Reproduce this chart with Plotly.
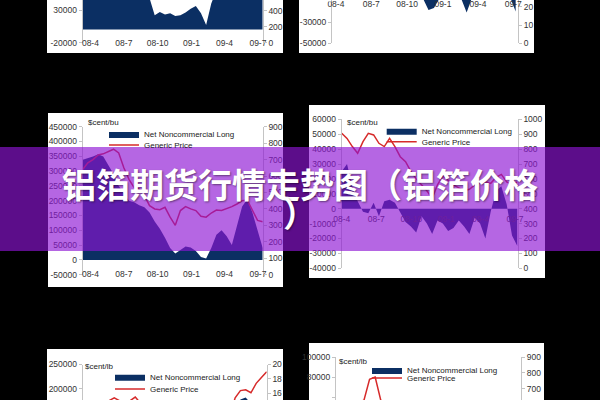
import plotly.graph_objects as go
import pandas as pd

W, H = 600, 400

# ---------------- data ----------------
dates_left = pd.date_range('2008-03-11', periods=36, freq='14D')
dates_right = pd.date_range('2008-04-01', periods=34, freq='14D')

tick_dates = ['2008-04-01', '2008-07-01', '2008-10-01', '2009-01-01', '2009-04-01', '2009-07-01']
tick_labels = ['08-4', '08-7', '08-10', '09-1', '09-4', '09-7']

# top-left chart
tl_net = [60000, 70000, 75000, 80000, 78000, 72000, 68000, 65000, 62000, 60000, 58000, 55000,
          52000, 48000, 22000, 27000, 23000, 25000, 21000, 22000, 26000, 32000, 36000, 25000,
          7000, 40000, 60000, 65000, 70000, 72000, 75000, 80000, 78000, 70000, 65000, 60000]
tl_price = [800, 820, 850, 880, 900, 930, 960, 950, 900, 860, 830, 800, 780, 740, 700, 680, 660, 640,
            620, 630, 650, 660, 640, 620, 600, 620, 640, 660, 680, 700, 720, 740, 760, 740, 720, 700]

# top-right chart
tr_net = [20000, 25000, 10000, 5000, 2000, -3000, 4000, -5000, 3000, 5000, 2000, -4000, -6000, -5000,
          -7000, -3000, -7000, -18000, -16000, -7000, -5000, -6000, -4000, -7000, -20500, -6000,
          -3000, -7000, 2000, 10000, 12000, 4000, -6000, -19500]
tr_price = [38, 39, 40, 41, 42, 43, 42, 41, 40, 39, 38, 37, 35, 33, 31, 30, 29, 28, 28, 29, 30, 31,
            30, 29, 28, 29, 30, 31, 32, 33, 34, 33, 32, 31]

# middle-left chart
ml_net = [338000, 343000, 349000, 357000, 349000, 320000, 290000, 250000, 225000, 200000, 195000,
          185000, 178000, 160000, 130000, 105000, 75000, 40000, 22000, 35000, 45000, 42000, 30000,
          10000, 5000, 40000, 85000, 100000, 80000, 50000, 120000, 180000, 205000, 160000, 100000, 40000]
ml_price = [640, 680, 700, 728, 735, 750, 763, 740, 650, 580, 530, 520, 480, 420, 400, 395, 410, 350,
            300, 390, 414, 400, 390, 355, 350, 375, 393, 390, 400, 414, 430, 450, 454, 390, 330, 322]

# middle-right chart
mr_net = [25000, 30000, 15000, 5000, -2000, -3000, 4000, -5000, 5000, 6000, 4000, -3000, -9000,
          -12000, -16000, -5000, -10000, -17000, -8000, -10000, -15000, -13000, -8000, -12000,
          -17000, -6000, -10000, -20000, -2000, 12000, 15000, 3000, -18000, -25000]
mr_price = [906, 872, 817, 772, 850, 906, 895, 839, 817, 872, 817, 749, 716, 650, 600, 560, 520, 470,
            560, 620, 590, 560, 540, 520, 530, 560, 570, 580, 570, 610, 630, 580, 560, 580]

# bottom-left chart
bl_net = [120000, 130000, 140000, 150000, 145000, 135000, 120000, 100000, 90000, 85000, 80000, 75000,
          70000, 60000, 50000, 40000, 30000, 20000, 15000, 10000, 12000, 15000, 20000, 25000, 30000,
          50000, 80000, 100000, 120000, 150000, 178000, 182000, 170000, 150000, 140000, 130000]
bl_price = [13.5, 14.0, 14.5, 14.7, 14.9, 15.0, 15.4, 15.0, 14.8, 15.0, 15.5, 14.9, 14.2, 13.0, 12.0,
            10.5, 9.0, 8.0, 7.0, 6.5, 6.0, 6.8, 7.5, 7.2, 7.8, 8.5, 9.5, 11.0, 13.0, 15.4, 16.4, 16.5,
            16.1, 17.4, 18.2, 19.0]

# bottom-right chart
br_net = [30000, 35000, 40000, 45000, 42000, 38000, 35000, 30000, 25000, 20000, 15000, 10000, 5000,
          0, -5000, -10000, -15000, -10000, -5000, 0, 5000, 10000, 15000, 20000, 25000, 30000, 35000,
          40000, 45000, 42000, 40000, 38000, 35000, 30000]
br_price = [520, 550, 580, 600, 615, 630, 760, 775, 630, 600, 580, 550, 520, 480, 440, 400, 380, 360,
            350, 340, 330, 340, 360, 380, 400, 420, 440, 460, 480, 500, 520, 540, 560, 580]

left_ticks_tl = [-20000, 30000]
right_ticks_tl = [0, 200, 400]
left_ticks_tr = [-50000, -30000, -10000]
right_ticks_tr = [0, 10, 20]
left_ticks_ml = list(range(-50000, 450001, 50000))
right_ticks_ml = list(range(0, 901, 100))
left_ticks_mr = list(range(-40000, 60001, 10000))
right_ticks_mr = list(range(0, 1001, 100))
left_ticks_bl = [200000, 250000]
right_ticks_bl = [16, 18, 20]
left_ticks_br = [60000, 80000, 100000]
right_ticks_br = [700, 800, 900]

NAVY = '#0b2f63'
RED = '#d62a2a'
FAM = 'Liberation Sans, Arial, sans-serif'
TICKFONT = dict(family=FAM, size=8.5, color='#333333')
LEGFONT = dict(family=FAM, size=8, color='#222222')
AXC = '#c4c4c4'


def px(x):
    return x / W


def py(y):
    return 1 - y / H


panels = [
    dict(dates=dates_left, net=tl_net, price=tl_price, lt=left_ticks_tl, rt=right_ticks_tl,
         xd=(82.7, 262.7), yd=(0, 42.7), lr=(-20000, 45291), rr=(0, 534),
         xr=('2008-03-11', '2009-07-14'), xanchor=None, standoff=-6, showx=True,
         panel=(47, -5, 283, 53), unit=None, legend=None),
    dict(dates=dates_right, net=tr_net, price=tr_price, lt=left_ticks_tr, rt=right_ticks_tr,
         xd=(332, 518), yd=(0, 43.3), lr=(-50000, -8365), rr=(0, 23.66),
         xr=('2008-03-22', '2009-07-13'), xanchor=0.0, standoff=-3, showx=True,
         panel=(299, -5, 534, 53), unit=None, legend=None),
    dict(dates=dates_left, net=ml_net, price=ml_price, lt=left_ticks_ml, rt=right_ticks_ml,
         xd=(82.7, 262.7), yd=(126.7, 274.7), lr=(-50000, 450000), rr=(0, 900),
         xr=('2008-03-11', '2009-07-14'), xanchor=None, standoff=-7, showx=True,
         panel=(48, 113, 283, 287), unit=('$cent/bu', 86, 122.7), legend=(104, 134, 145)),
    dict(dates=dates_right, net=mr_net, price=mr_price, lt=left_ticks_mr, rt=right_ticks_mr,
         xd=(341.7, 517.7), yd=(119.3, 268.3), lr=(-40000, 60000), rr=(0, 1000),
         xr=('2008-04-01', '2009-07-08'), xanchor=208.3, standoff=4, showx=True,
         panel=(309, 105, 545, 278), unit=('$cent/bu', 345, 122.3), legend=(381.7, 130.7, 141.7)),
    dict(dates=dates_left, net=bl_net, price=bl_price, lt=left_ticks_bl, rt=right_ticks_bl,
         xd=(82.7, 266.7), yd=(364.5, 400), lr=(176955, 250000), rr=(15.1, 20),
         xr=('2008-03-11', '2009-07-14'), xanchor=None, standoff=0, showx=False,
         panel=(47, 349, 283, 405), unit=('$cent/lb', 83, 366.7), legend=(110, 376.7, 389)),
    dict(dates=dates_right, net=br_net, price=br_price, lt=left_ticks_br, rt=right_ticks_br,
         xd=(336, 521), yd=(357, 400), lr=(57426, 100000), rr=(631, 900),
         xr=('2008-04-01', '2009-07-08'), xanchor=None, standoff=0, showx=False,
         panel=(309, 343, 544, 405), unit=('$cent/lb', 337, 361.7), legend=(367, 370, 378)),
]

fig = go.Figure()
layout = dict(width=W, height=H, margin=dict(l=0, r=0, t=0, b=0, pad=0, autoexpand=False),
              paper_bgcolor='black', plot_bgcolor='rgba(0,0,0,0)', showlegend=True,
              shapes=[], annotations=[])
legend_count = 1

for p, cfg in enumerate(panels):
    xn = 'x' if p == 0 else f'x{p + 1}'
    li, ri = 2 * p + 1, 2 * p + 2
    yl = 'y' if li == 1 else f'y{li}'
    yr = f'y{ri}'
    xkey = 'xaxis' if p == 0 else f'xaxis{p + 1}'
    ylkey = 'yaxis' if li == 1 else f'yaxis{li}'
    yrkey = f'yaxis{ri}'

    leg_a = leg_b = None
    if cfg['legend'] is not None:
        leg_a = 'legend' if legend_count == 1 else f'legend{legend_count}'
        leg_b = f'legend{legend_count + 1}'
        lx, ly1, ly2 = cfg['legend']
        layout[leg_a] = dict(x=px(lx), y=py(ly1), xanchor='left', yanchor='middle',
                             bgcolor='rgba(0,0,0,0)', borderwidth=0, font=LEGFONT, itemwidth=30)
        layout[leg_b] = dict(x=px(lx), y=py(ly2), xanchor='left', yanchor='middle',
                             bgcolor='rgba(0,0,0,0)', borderwidth=0, font=LEGFONT, itemwidth=30)
        legend_count += 2

    fig.add_trace(go.Scatter(x=cfg['dates'], y=cfg['net'], mode='lines', fill='tozeroy',
                             fillcolor=NAVY, line=dict(width=0, color=NAVY),
                             name='Net Noncommercial Long', xaxis=xn, yaxis=yl,
                             showlegend=leg_a is not None, legend=leg_a or 'legend',
                             hoverinfo='skip'))
    fig.add_trace(go.Scatter(x=cfg['dates'], y=cfg['price'], mode='lines',
                             line=dict(width=1.5, color=RED),
                             name='Generic Price', xaxis=xn, yaxis=yr,
                             showlegend=leg_b is not None, legend=leg_b or 'legend',
                             hoverinfo='skip'))

    xax = dict(domain=[px(cfg['xd'][0]), px(cfg['xd'][1])], range=list(cfg['xr']), type='date',
               tickmode='array', tickvals=tick_dates, ticktext=tick_labels, showgrid=False,
               zeroline=False, showline=False, ticks='', tickfont=TICKFONT,
               ticklabelstandoff=cfg['standoff'], automargin=False,
               showticklabels=cfg['showx'])
    if cfg['xanchor'] is None:
        xax['anchor'] = yl
    else:
        xax['anchor'] = 'free'
        xax['position'] = py(cfg['xanchor'])
    layout[xkey] = xax

    ydom = [py(cfg['yd'][1]), py(cfg['yd'][0])]
    layout[ylkey] = dict(domain=ydom, range=list(cfg['lr']), anchor=xn, tickmode='array',
                         tickvals=cfg['lt'], ticktext=[str(v) for v in cfg['lt']],
                         showgrid=False, zeroline=False, showline=True, linecolor=AXC,
                         linewidth=1, ticks='outside', ticklen=3, tickcolor=AXC,
                         tickfont=TICKFONT, automargin=False)
    layout[yrkey] = dict(domain=ydom, range=list(cfg['rr']), anchor=xn, overlaying=yl,
                         side='right', tickmode='array', tickvals=cfg['rt'],
                         ticktext=[str(v) for v in cfg['rt']], showgrid=False, zeroline=False,
                         showline=True, linecolor=AXC, linewidth=1, ticks='outside', ticklen=3,
                         tickcolor=AXC, tickfont=TICKFONT, automargin=False)

    x0, y0, x1, y1 = cfg['panel']
    layout['shapes'].append(dict(type='rect', xref='paper', yref='paper', x0=px(x0), x1=px(x1),
                                 y0=py(y1), y1=py(y0), fillcolor='white', line=dict(width=0),
                                 layer='below'))
    if cfg['unit'] is not None:
        t, ux, uy = cfg['unit']
        layout['annotations'].append(dict(text=t, xref='paper', yref='paper', x=px(ux), y=py(uy),
                                          xanchor='left', yanchor='middle', showarrow=False,
                                          font=LEGFONT))

# purple banner with title
layout['shapes'].append(dict(type='rect', xref='paper', yref='paper', x0=0, x1=1, y0=py(251),
                             y1=py(147), fillcolor='rgba(141,20,212,0.65)', line=dict(width=0),
                             layer='above'))
title_font = dict(family='Noto Sans CJK SC', size=34, color='white', weight='bold',
                  shadow='1px 1px 2px rgba(0,0,0,0.45)')
layout['annotations'].append(dict(text='铝箔期货行情走势图（铝箔价格', xref='paper', yref='paper',
                                  x=0.5, y=py(183), xanchor='center', yanchor='middle',
                                  showarrow=False, font=title_font))
layout['annotations'].append(dict(text='）', xref='paper', yref='paper', x=0.5, y=py(212),
                                  xanchor='center', yanchor='middle', showarrow=False,
                                  font=title_font))

fig.update_layout(**layout)
fig.write_html('out.html', config={'displayModeBar': False},
               post_script="document.body.style.margin='0px';")
